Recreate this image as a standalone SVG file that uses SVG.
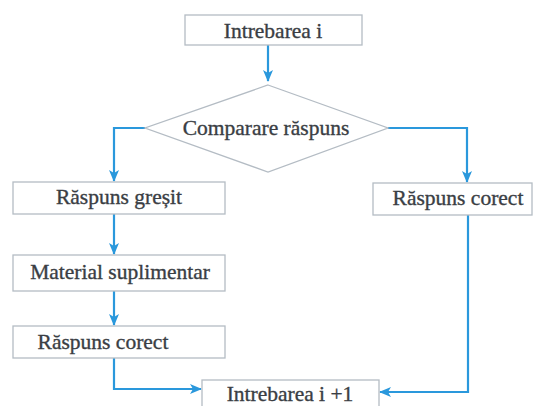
<svg xmlns="http://www.w3.org/2000/svg" width="538" height="406" viewBox="0 0 538 406">
  <style>
    .box { fill: #ffffff; stroke: #b4bcc4; stroke-width: 1.3; }
    .lbl { font-family: "Liberation Serif", "DejaVu Serif", "Times New Roman", serif; font-size: 21.5px; fill: #3a3e44; stroke: #3a3e44; stroke-width: 0.35; text-anchor: middle; }
    .wire { fill: none; stroke: #2a98dc; stroke-width: 2.2; }
  </style>
  <defs>
    <marker id="arrow" viewBox="0 0 12 10" refX="11" refY="5" markerWidth="12" markerHeight="10" markerUnits="userSpaceOnUse" orient="auto">
      <path d="M0,0 L12,5 L0,10 L3,5 Z" fill="#2a98dc"/>
    </marker>
  </defs>
  <rect width="538" height="406" fill="#ffffff"/>

  <g id="connectors">
    <path class="wire" d="M268,45 V81" marker-end="url(#arrow)"/>
    <path class="wire" d="M145,128 H114 V181" marker-end="url(#arrow)"/>
    <path class="wire" d="M388,128 H467 V182" marker-end="url(#arrow)"/>
    <path class="wire" d="M114,214 V254" marker-end="url(#arrow)"/>
    <path class="wire" d="M114,291 V325" marker-end="url(#arrow)"/>
    <path class="wire" d="M114,358 V389 H201" marker-end="url(#arrow)"/>
    <path class="wire" d="M468,215 V392 H380" marker-end="url(#arrow)"/>
  </g>

  <g id="start">
    <rect class="box" x="185" y="15" width="177" height="30"/>
    <text class="lbl" x="273" y="38">Intrebarea i</text>
  </g>

  <g id="compare">
    <polygon class="box" points="268,85 388,128 268,172 145,128"/>
    <text class="lbl" x="266" y="135">Comparare răspuns</text>
  </g>

  <g id="wrong">
    <rect class="box" x="13" y="182" width="212" height="32"/>
    <text class="lbl" x="119" y="204">Răspuns greșit</text>
  </g>

  <g id="correct-right">
    <rect class="box" x="373" y="183" width="159" height="32"/>
    <text class="lbl" x="458" y="205">Răspuns corect</text>
  </g>

  <g id="extra">
    <rect class="box" x="13" y="255" width="212" height="36"/>
    <text class="lbl" x="120" y="279">Material suplimentar</text>
  </g>

  <g id="correct-left">
    <rect class="box" x="13" y="326" width="212" height="32"/>
    <text class="lbl" x="103" y="349">Răspuns corect</text>
  </g>

  <g id="next">
    <rect class="box" x="202" y="380" width="177" height="40"/>
    <text class="lbl" x="290" y="401">Intrebarea i +1</text>
  </g>
</svg>
